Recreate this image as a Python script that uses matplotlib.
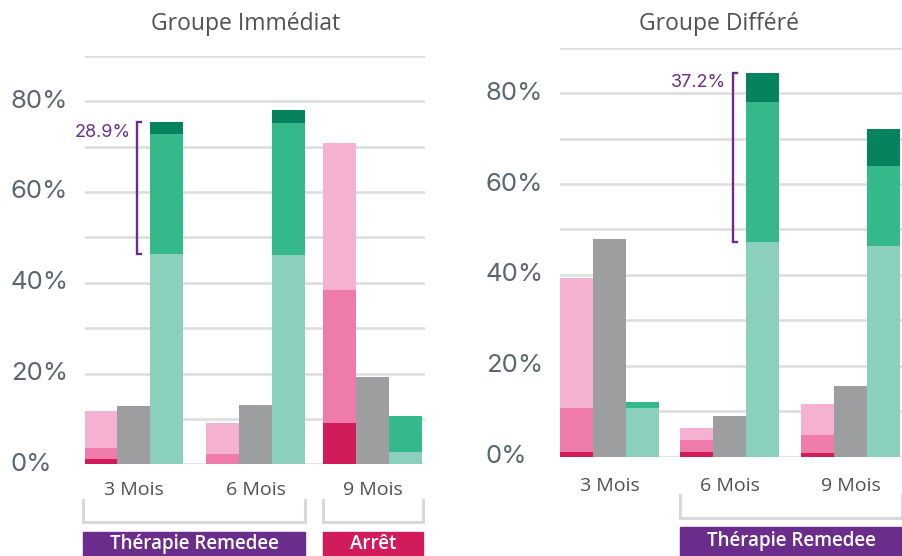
import matplotlib.pyplot as plt
import matplotlib.transforms as mtransforms
from matplotlib.patches import Rectangle
from matplotlib.lines import Line2D

# ---- data (percentages) ----
months = ["3 Mois", "6 Mois", "9 Mois"]

# Groupe Immédiat
imm_pink_dark = [1.2, 0.0, 9.1]
imm_pink_mid = [2.4, 2.3, 29.4]
imm_pink_light = [8.1, 6.8, 32.2]
imm_gray = [12.9, 13.1, 19.3]
imm_green_light = [46.4, 46.0, 2.7]
imm_green_mid = [26.3, 29.1, 8.0]
imm_green_dark = [2.6, 2.9, 0.0]

# Groupe Différé
dif_pink_dark = [1.0, 1.0, 0.8]
dif_pink_mid = [9.7, 2.7, 4.0]
dif_pink_light = [28.7, 2.6, 6.8]
dif_gray = [47.9, 9.0, 15.6]
dif_green_light = [10.7, 47.3, 46.4]
dif_green_mid = [1.3, 30.7, 17.6]
dif_green_dark = [0.0, 6.5, 8.2]

yticks = [0, 20, 40, 60, 80]

# ---- colours ----
PINK = ["#d11b5a", "#ef7bab", "#f5b1d2"]
GRAY = "#9d9ea0"
GREEN = ["#8ad0bc", "#36b98a", "#06825f"]
PURPLE = "#6b2d8b"
CRIMSON = "#d11b5a"
GRID = "#dcdcdc"
TXT = "#505050"
TICK = "#5a6770"

W, H = 903, 556
fig = plt.figure(figsize=(W / 100, H / 100), dpi=100)


def px_axes(x0, x1, y_top, y_bot):
    return fig.add_axes([x0 / W, 1 - y_bot / H, (x1 - x0) / W, (y_bot - y_top) / H])


def panel(ax, xlim, centers, pd, pm, pl, gray, gl, gm, gdark, title, title_x,
          label_x, bracket_idx):
    ax.set_xlim(*xlim)
    ax.set_ylim(0, 90)
    for s in ax.spines.values():
        s.set_visible(False)
    ax.set_xticks([])
    ax.set_yticks([])
    for g in range(0, 100, 10):
        ax.axhline(g, color=GRID, lw=1.8, zorder=0)

    bw = 33
    for i, c in enumerate(centers):
        b = 0
        for val, col in zip([pd[i], pm[i], pl[i]], PINK):
            ax.bar(c - bw, val, bw, bottom=b, color=col, zorder=2)
            b += val
        ax.bar(c, gray[i], bw, color=GRAY, zorder=2)
        b = 0
        for val, col in zip([gl[i], gm[i], gdark[i]], GREEN):
            ax.bar(c + bw, val, bw, bottom=b, color=col, zorder=2)
            b += val

    # purple bracket on the green bar
    i = bracket_idx
    lo = gl[i]
    hi = gl[i] + gm[i] + gdark[i]
    bx = centers[i] + bw / 2 - 12.5
    ax.plot([bx + 4, bx, bx, bx + 4], [lo, lo, hi, hi], color=PURPLE, lw=1.7,
            solid_joinstyle="miter", zorder=3)
    ax.text(bx - 7, hi - 2.2, f"{gm[i] + gdark[i]:.1f}%", color=PURPLE,
            ha="right", va="center", fontsize=13, family="Inter")

    # title
    fig.text(title_x / W, 1 - 24 / H, title, ha="center", va="center",
             color=TXT, fontsize=16.5, family="Open Sans")

    # y labels
    tr = mtransforms.blended_transform_factory(fig.transFigure, ax.transData)
    for t in yticks:
        ax.text(label_x / W, t, f"{t}%", transform=tr, ha="left", va="center",
                color=TICK, fontsize=18.5, family="Inter")


# left panel
axL = px_axes(85, 425, 55.7, 464.3)
cL = [133.5, 255.5, 372.5]
panel(axL, (85, 425), cL, imm_pink_dark, imm_pink_mid, imm_pink_light, imm_gray,
      imm_green_light, imm_green_mid, imm_green_dark, "Groupe Immédiat", 246, 11, 0)

# right panel
axR = px_axes(560, 903, 47.7, 456.7)
cR = [609.5, 729.5, 850.5]
panel(axR, (560, 903), cR, dif_pink_dark, dif_pink_mid, dif_pink_light, dif_gray,
      dif_green_light, dif_green_mid, dif_green_dark, "Groupe Différé", 719, 486, 1)

# category labels
for ax, centers, ly in [(axL, cL, 490), (axR, cR, 486)]:
    tr = mtransforms.blended_transform_factory(ax.transData, fig.transFigure)
    for c, m in zip(centers, months):
        ax.text(c, 1 - ly / H, m, transform=tr, ha="center", va="center",
                color=TXT, fontsize=14, family="Open Sans", clip_on=False)


def phase(x0, x1, y_top, y_bot, box_top, label, color, text_y):
    fig.add_artist(Line2D([x0 / W, x0 / W, x1 / W, x1 / W],
                          [1 - y_top / H, 1 - y_bot / H, 1 - y_bot / H, 1 - y_top / H],
                          color="#d9d9d9", lw=2.2, solid_joinstyle="miter"))
    fig.add_artist(Rectangle((x0 / W, 0), (x1 - x0) / W, 1 - box_top / H,
                             color=color, transform=fig.transFigure))
    fig.text((x0 + x1) / 2 / W, 1 - text_y / H, label, ha="center", va="center",
             color="white", fontsize=13.5, family="Open Sans", fontweight="semibold")


phase(83, 305, 500, 522, 532, "Thérapie Remedee", PURPLE, 544)
phase(323, 423, 500, 522, 532, "Arrêt", CRIMSON, 544)
phase(680, 902, 495, 518, 527, "Thérapie Remedee", PURPLE, 541)

fig.savefig("out.png", dpi=100)
